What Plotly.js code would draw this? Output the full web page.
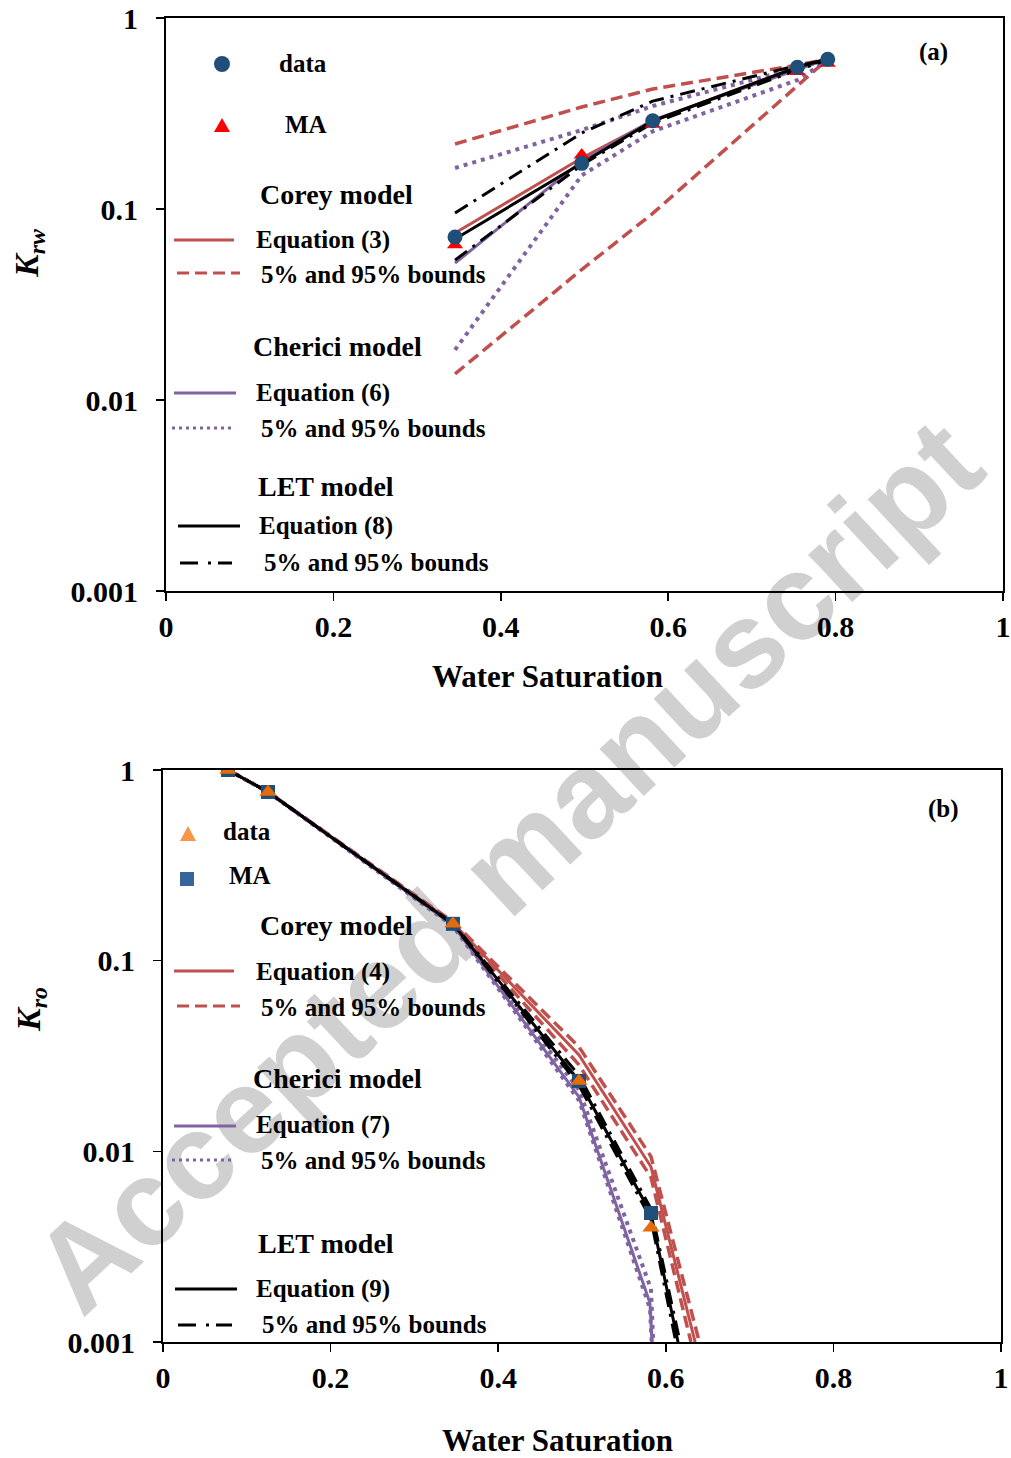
<!DOCTYPE html>
<html>
<head>
<meta charset="utf-8">
<script src="https://cdn.plot.ly/plotly-3.0.1.min.js"></script>
<style>html,body{margin:0;padding:0;background:#fff;}#chart{width:1011px;height:1458px;}</style>
</head>
<body>
<div id="chart"></div>
<script>
// ---------- DATA (a): water relative permeability ----------
const swA = [0.3453, 0.4967, 0.5815, 0.7543, 0.7906];
const krwData = [0.0713, 0.1734, 0.290, 0.552, 0.608];
const krwMA = [0.065, 0.192, 0.278, 0.525, 0.58];
const krwCorey = [0.0748, 0.185, 0.289, 0.554, 0.612];
const krwCoreyLo = [0.0137, 0.0482, 0.0948, 0.437, 0.61];
const krwCoreyHi = [0.219, 0.342, 0.425, 0.567, 0.61];
const krwCherici = [0.0521, 0.178, 0.292, 0.54, 0.61];
const krwChericiLo = [0.0183, 0.15, 0.255, 0.473, 0.60];
const krwChericiHi = [0.164, 0.259, 0.346, 0.547, 0.603];
const krwLET = [0.0697, 0.174, 0.289, 0.552, 0.612];
const krwLETLo = [0.054, 0.170, 0.282, 0.534, 0.603];
const krwLETHi = [0.0953, 0.250, 0.367, 0.564, 0.603];

// ---------- DATA (b): oil relative permeability ----------
const swB = [0.0776, 0.1253, 0.346, 0.4964, 0.5823];
const kroData = [1.0, 0.767, 0.156, 0.0234, 0.00397];
const kroMA = [1.0, 0.767, 0.156, 0.0234, 0.00475];
const swCoreyB = [0.0776, 0.1253, 0.346, 0.4964, 0.5823, 0.635];
const kroCorey = [1.0, 0.767, 0.158, 0.032, 0.0083, 0.001];
const swCoreyLoB = [0.0776, 0.1253, 0.346, 0.4964, 0.5823, 0.630];
const kroCoreyLo = [1.0, 0.767, 0.156, 0.0284, 0.0073, 0.001];
const swCoreyHiB = [0.0776, 0.1253, 0.346, 0.4964, 0.5823, 0.640];
const kroCoreyHi = [1.0, 0.767, 0.160, 0.0353, 0.0094, 0.001];
const swChericiB = [0.0776, 0.1253, 0.346, 0.4964, 0.5811, 0.5835];
const kroCherici = [1.0, 0.767, 0.154, 0.0193, 0.0016, 0.001];
const swChericiLoB = [0.0776, 0.1253, 0.346, 0.4964, 0.5811, 0.5832];
const kroChericiLo = [1.0, 0.767, 0.152, 0.0185, 0.0015, 0.001];
const swChericiHiB = [0.0776, 0.1253, 0.346, 0.4964, 0.5823, 0.5850];
const kroChericiHi = [1.0, 0.767, 0.157, 0.021, 0.0019, 0.001];
const swLETB = [0.0776, 0.1253, 0.346, 0.4964, 0.5823, 0.6146];
const kroLET = [1.0, 0.767, 0.156, 0.0234, 0.0047, 0.001];
const swLETLoB = [0.0776, 0.1253, 0.346, 0.4964, 0.5823, 0.612];
const kroLETLo = [1.0, 0.767, 0.155, 0.0222, 0.0044, 0.001];
const swLETHiB = [0.0776, 0.1253, 0.346, 0.4964, 0.5823, 0.617];
const kroLETHi = [1.0, 0.767, 0.157, 0.0250, 0.0050, 0.001];

// ---------- TICKS / LABELS ----------
const xTickVals = [0, 0.2, 0.4, 0.6, 0.8, 1];
const xTickText = ['0', '0.2', '0.4', '0.6', '0.8', '1'];
const yTickVals = [0.001, 0.01, 0.1, 1];
const yTickText = ['0.001', '0.01', '0.1', '1'];
const xTitle = 'Water Saturation';

// ---------- STYLE ----------
const RED = '#c0504d', PURPLE = '#8064a2', BLACK = '#000000';
const DASH_RED = '12px,6px', DOT = '4px,5px', DASHDOT = '15px,7px,3px,7px';
const SERIF = 'Liberation Serif, Times New Roman, serif';

const W = 1011, H = 1458, ML = 163, MR = 8, MT = 18, MB = 116;
const px = p => (p - ML) / (W - ML - MR);
const py = p => (H - MB - p) / (H - MT - MB);

function line(x, y, xa, ya, color, dash, width) {
  return {x: x, y: y, xaxis: xa, yaxis: ya, type: 'scatter', mode: 'lines',
    line: {color: color, dash: dash || 'solid', width: width || 3}, showlegend: false, hoverinfo: 'skip'};
}
function pts(x, y, xa, ya, color, symbol, size) {
  return {x: x, y: y, xaxis: xa, yaxis: ya, type: 'scatter', mode: 'markers',
    marker: {color: color, symbol: symbol, size: size, line: {width: 0}}, showlegend: false, hoverinfo: 'skip'};
}

const traces = [
  // (a)
  line(swA, krwCoreyHi, 'x', 'y', RED, DASH_RED, 3.5),
  line(swA, krwCoreyLo, 'x', 'y', RED, DASH_RED, 3.5),
  line(swA, krwChericiHi, 'x', 'y', PURPLE, DOT, 4),
  line(swA, krwChericiLo, 'x', 'y', PURPLE, DOT, 4),
  line(swA, krwCorey, 'x', 'y', RED, 'solid'),
  line(swA, krwCherici, 'x', 'y', PURPLE, 'solid'),
  line(swA, krwLETHi, 'x', 'y', BLACK, DASHDOT),
  line(swA, krwLETLo, 'x', 'y', BLACK, DASHDOT),
  line(swA, krwLET, 'x', 'y', BLACK, 'solid'),
  pts(swA, krwMA, 'x', 'y', '#ff0000', 'triangle-up', 14),
  pts(swA, krwData, 'x', 'y', '#1f4e79', 'circle', 15),
  // (b)
  line(swCoreyHiB, kroCoreyHi, 'x2', 'y2', RED, DASH_RED, 3.5),
  line(swCoreyLoB, kroCoreyLo, 'x2', 'y2', RED, DASH_RED, 3.5),
  line(swCoreyB, kroCorey, 'x2', 'y2', RED, 'solid'),
  line(swChericiHiB, kroChericiHi, 'x2', 'y2', PURPLE, DOT, 4),
  line(swChericiLoB, kroChericiLo, 'x2', 'y2', PURPLE, DOT, 4),
  line(swChericiB, kroCherici, 'x2', 'y2', PURPLE, 'solid'),
  line(swLETHiB, kroLETHi, 'x2', 'y2', BLACK, DASHDOT),
  line(swLETLoB, kroLETLo, 'x2', 'y2', BLACK, DASHDOT),
  line(swLETB, kroLET, 'x2', 'y2', BLACK, 'solid'),
  pts(swB, kroMA, 'x2', 'y2', '#1f4e79', 'square', 14),
  pts(swB, kroData, 'x2', 'y2', '#e46c0a', 'triangle-up', 15)
];

const tickFont = {family: SERIF, size: 30, weight: 'bold', color: '#000'};
function xAxis(domain, anchor) {
  return {domain: domain, anchor: anchor, range: [0, 1], tickvals: xTickVals, ticktext: xTickText,
    ticks: 'outside', ticklen: 8, tickwidth: 1.5, tickcolor: '#000', showline: true, linewidth: 2,
    linecolor: '#000', mirror: true, showgrid: false, zeroline: false, tickfont: tickFont, automargin: false};
}
function yAxis(domain, anchor) {
  return {domain: domain, anchor: anchor, type: 'log', range: [-3, 0], tickvals: yTickVals, ticktext: yTickText,
    ticks: 'outside', ticklen: 8, tickwidth: 1.5, tickcolor: '#000', showline: true, linewidth: 2,
    linecolor: '#000', mirror: true, showgrid: false, zeroline: false, tickfont: tickFont, automargin: false,
    ticklabelstandoff: 12};
}

const ann = [];
const shapes = [];
function txt(x, y, t, size, anchor) {
  ann.push({xref: 'paper', yref: 'paper', x: px(x), y: py(y), text: t, showarrow: false,
    xanchor: anchor || 'left', yanchor: 'middle', font: {family: SERIF, size: size, weight: 'bold', color: '#000'}});
}
function seg(x0, x1, y, color, dash) {
  shapes.push({type: 'line', xref: 'paper', yref: 'paper', x0: px(x0), x1: px(x1), y0: py(y), y1: py(y),
    line: {color: color, width: 3, dash: dash || 'solid'}});
}

// watermark (behind the plot)
shapes.push({type: 'line', xref: 'paper', yref: 'paper', x0: px(32), y0: py(1292), x1: px(966), y1: py(422),
  line: {color: 'rgba(0,0,0,0)', width: 0}, layer: 'below',
  label: {text: 'Accepted manuscript', textangle: 'auto', textposition: 'middle', yanchor: 'middle',
    font: {family: 'Liberation Sans, Arial, sans-serif', size: 122, weight: 'bold', color: '#d0d0d0'}}});

// Legend (a)
shapes.push({type: 'circle', xref: 'paper', yref: 'paper', x0: px(214), x1: px(230), y0: py(72), y1: py(56),
  fillcolor: '#1f4e79', line: {width: 0}});
shapes.push({type: 'path', xref: 'paper', yref: 'paper',
  path: `M ${px(214)},${py(132)} L ${px(230)},${py(132)} L ${px(222)},${py(118)} Z`,
  fillcolor: '#ff0000', line: {width: 0}});
txt(277, 64, 'data', 25);
txt(283, 124, 'MA', 25);
txt(258, 194, 'Corey model', 28);
seg(174, 234, 240, RED); txt(254, 240, 'Equation (3)', 25);
seg(177, 240, 273, RED, DASH_RED); txt(259, 275, '5% and 95% bounds', 25);
txt(251, 346, 'Cherici model', 28);
seg(174, 236, 393, PURPLE); txt(254, 393, 'Equation (6)', 25);
seg(172, 233, 428, PURPLE, '3px,4px'); txt(259, 428, '5% and 95% bounds', 25);
txt(256, 487, 'LET model', 28);
seg(178, 240, 526, BLACK); txt(257, 526, 'Equation (8)', 25);
seg(180, 232, 563, BLACK, '18px,10px,3px,7px'); txt(262, 562, '5% and 95% bounds', 25);
txt(933, 52, '(a)', 25, 'center');

// Legend (b)
shapes.push({type: 'path', xref: 'paper', yref: 'paper',
  path: `M ${px(180)},${py(841)} L ${px(196)},${py(841)} L ${px(188)},${py(826)} Z`,
  fillcolor: '#f79646', line: {width: 0}});
shapes.push({type: 'rect', xref: 'paper', yref: 'paper', x0: px(180), x1: px(194), y0: py(886), y1: py(872),
  fillcolor: '#35659a', line: {width: 0}});
txt(221, 831, 'data', 25);
txt(227, 875, 'MA', 25);
txt(258, 926, 'Corey model', 28);
seg(174, 234, 971, RED); txt(254, 972, 'Equation (4)', 25);
seg(177, 240, 1006, RED, DASH_RED); txt(259, 1007, '5% and 95% bounds', 25);
txt(251, 1078, 'Cherici model', 28);
seg(174, 236, 1126, PURPLE); txt(254, 1125, 'Equation (7)', 25);
seg(172, 233, 1160, PURPLE, '3px,4px'); txt(259, 1160, '5% and 95% bounds', 25);
txt(256, 1243, 'LET model', 28);
seg(175, 237, 1289, BLACK); txt(254, 1289, 'Equation (9)', 25);
seg(178, 232, 1325, BLACK, '18px,10px,3px,7px'); txt(260, 1324, '5% and 95% bounds', 25);
txt(943, 809, '(b)', 25, 'center');

// axis titles
txt(547, 676, xTitle, 31, 'center');
txt(557, 1441, xTitle, 31, 'center');
ann.push({xref: 'paper', yref: 'paper', x: px(29), y: py(254), text: '<i>K<sub>rw</sub></i>', showarrow: false,
  textangle: -90, xanchor: 'center', yanchor: 'middle', font: {family: SERIF, size: 34, weight: 'bold', color: '#000'}});
ann.push({xref: 'paper', yref: 'paper', x: px(31), y: py(1010), text: '<i>K<sub>ro</sub></i>', showarrow: false,
  textangle: -90, xanchor: 'center', yanchor: 'middle', font: {family: SERIF, size: 34, weight: 'bold', color: '#000'}});

const layout = {
  width: W, height: H,
  margin: {l: ML, r: MR, t: MT, b: MB},
  paper_bgcolor: '#ffffff', plot_bgcolor: 'rgba(0,0,0,0)',
  showlegend: false,
  xaxis: xAxis([px(166), px(1003)], 'y'),
  yaxis: yAxis([py(591), py(18)], 'x'),
  xaxis2: xAxis([0, px(1001)], 'y2'),
  yaxis2: yAxis([0, py(770)], 'x2'),
  annotations: ann,
  shapes: shapes
};

Plotly.newPlot('chart', traces, layout, {displayModeBar: false, staticPlot: true});
</script>
</body>
</html>
